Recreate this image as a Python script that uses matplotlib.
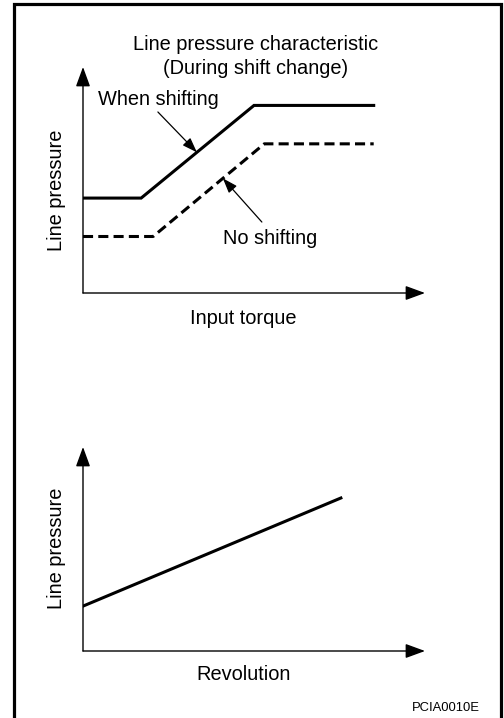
import numpy as np
import matplotlib.pyplot as plt
from matplotlib.patches import Rectangle

plt.rcParams['font.family'] = ['Liberation Sans', 'DejaVu Sans']

# ------------- line pressure vs input torque (arbitrary units) -------------
torque_shift = [0, 17, 50, 85]
press_shift = [42, 42, 83, 83]
torque_noshift = [0, 20.5, 53, 85]
press_noshift = [25, 25, 66, 66]

# ------------- line pressure vs revolution -------------
revolution = [0, 75.4]
press_rev = [22, 75]

W, H = 504, 718
fig = plt.figure(figsize=(W / 100, H / 100), dpi=100)


def px_axes(x0, x1, y_bottom, y_top):
    # axes placed by pixel edges (y measured from top)
    return fig.add_axes([x0 / W, 1 - y_bottom / H, (x1 - x0) / W, (y_bottom - y_top) / H])


def arrow_axes(ax):
    # bare axes with arrowheads at the ends
    ax.set_xlim(0, 100)
    ax.set_ylim(0, 100)
    for s in ax.spines.values():
        s.set_visible(False)
    ax.set_xticks([])
    ax.set_yticks([])
    ax.patch.set_alpha(0)
    style = "-|>,head_length=0.6,head_width=0.22"
    kw = dict(arrowstyle=style, color="k", lw=1.0, mutation_scale=20,
              shrinkA=0, shrinkB=0)
    ax.annotate("", xy=(1, 0), xytext=(0, 0), xycoords="axes fraction",
                arrowprops=kw, annotation_clip=False)
    ax.annotate("", xy=(0, 1), xytext=(0, 0), xycoords="axes fraction",
                arrowprops=kw, annotation_clip=False)


fs = 14.4

# top chart
ax1 = px_axes(83, 425, 293, 67)
arrow_axes(ax1)
ax1.plot(torque_shift, press_shift, color="k", lw=2.2, solid_joinstyle="miter")
ax1.plot(torque_noshift, press_noshift, color="k", lw=2.2,
         linestyle=(0, (3.3, 1.7)))
ax1.text(0.506, 1.046, "Line pressure characteristic\n(During shift change)",
         transform=ax1.transAxes, ha="center", va="center",
         multialignment="center", fontsize=fs, linespacing=1.35)
ax1.set_xlabel("Input torque", fontsize=fs, va="center")
ax1.xaxis.set_label_coords(0.47, -25 / 226)
ax1.set_ylabel("Line pressure", fontsize=fs, va="center")
ax1.yaxis.set_label_coords(-26 / 342, 0.456)

thin = dict(arrowstyle="-|>,head_length=0.45,head_width=0.16", color="k",
            lw=0.9, mutation_scale=20, shrinkA=0, shrinkB=0)
tip1 = 33.3
ax1.annotate("", xy=(tip1, np.interp(tip1, torque_shift, press_shift)),
             xytext=(21.9, 80.1), arrowprops=thin)
ax1.text(4.4, 85.8, "When shifting", fontsize=fs, ha="left", va="center")
tip2 = 40.9
ax1.annotate("", xy=(tip2, np.interp(tip2, torque_noshift, press_noshift)),
             xytext=(52.3, 31.4), arrowprops=thin)
ax1.text(40.9, 24.3, "No shifting", fontsize=fs, ha="left", va="center")

# bottom chart
ax2 = px_axes(83, 425, 651, 447)
arrow_axes(ax2)
ax2.plot(revolution, press_rev, color="k", lw=2.2)
ax2.set_xlabel("Revolution", fontsize=fs, va="center")
ax2.xaxis.set_label_coords(0.47, -23 / 204)
ax2.set_ylabel("Line pressure", fontsize=fs, va="center")
ax2.yaxis.set_label_coords(-26 / 342, 0.505)

fig.text(480 / W, 1 - 708 / H, "PCIA0010E", fontsize=9.4, ha="right", va="center")

# frame around the sheet
fig.patches.append(Rectangle((13.5 / W, -0.02), (501 - 13.5) / W, 1.02 - 4.5 / H,
                             transform=fig.transFigure, fill=False,
                             edgecolor="k", lw=2.3))

fig.savefig("out.png", dpi=100)
